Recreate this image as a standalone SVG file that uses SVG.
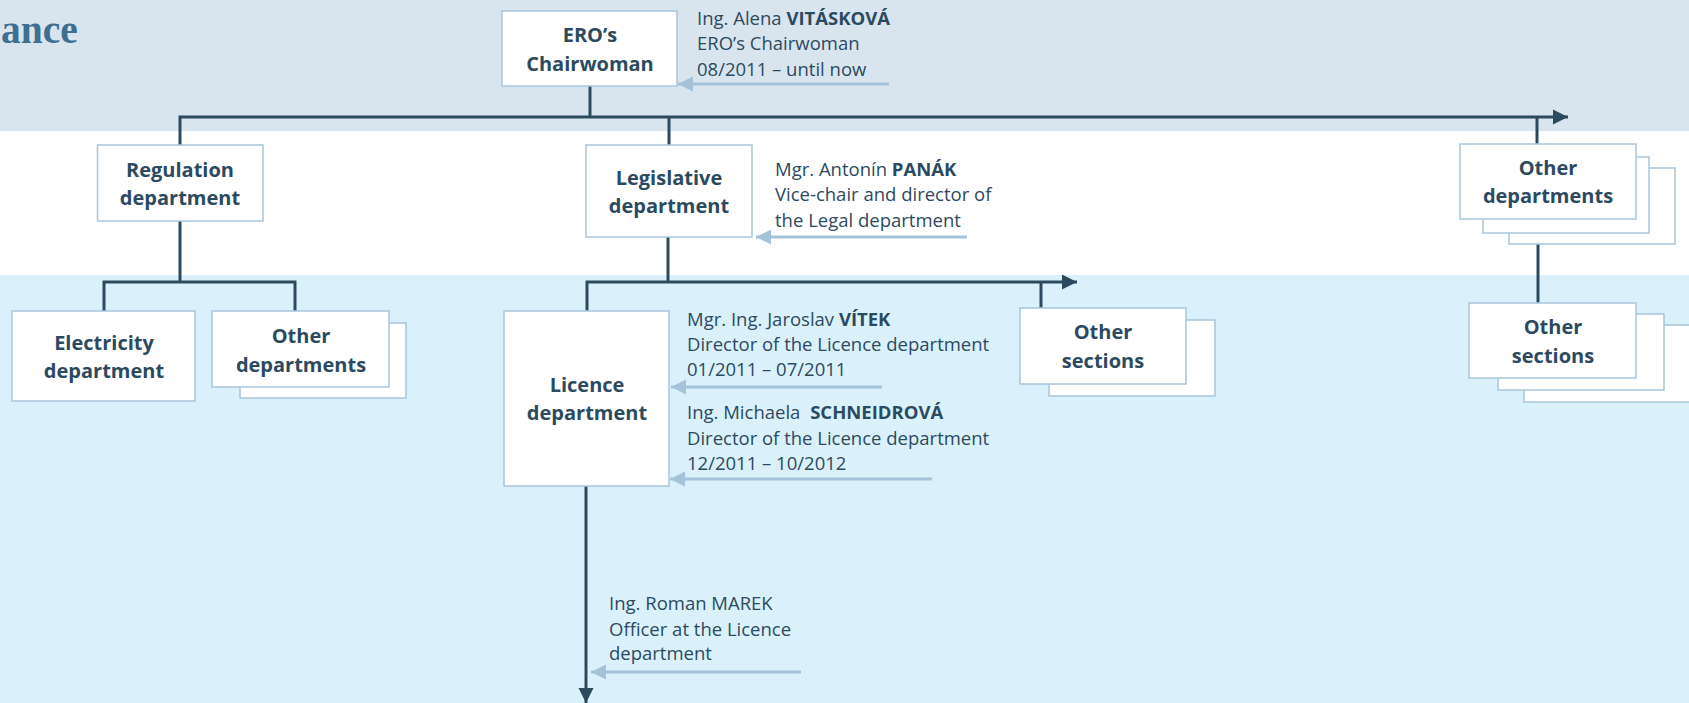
<svg xmlns="http://www.w3.org/2000/svg" width="1689" height="703" viewBox="0 0 1689 703">
<style>
.box{fill:#ffffff;stroke:#a8c6dd;stroke-width:1.5}
.lbl{font-family:"Open Sans","Noto Sans","Liberation Sans",sans-serif;font-weight:700;font-size:20px;fill:#2c4a5f;text-anchor:middle}
.ann{font-family:"Open Sans","Noto Sans","Liberation Sans",sans-serif;font-size:18.5px;fill:#2c4a5f}
.ann .b{font-weight:700}
.con{fill:none;stroke:#2c4a5e;stroke-width:3}
.pin{fill:none;stroke:#a4c3d9;stroke-width:3}
</style>
<defs>
<marker id="ah" markerUnits="userSpaceOnUse" markerWidth="16" markerHeight="16" viewBox="0 0 16 16" refX="15" refY="8" orient="auto">
<path d="M0,0.5 L15,8 L0,15.5 z" fill="#2c4a5e"/>
</marker>
<marker id="ahl" markerUnits="userSpaceOnUse" markerWidth="16" markerHeight="16" viewBox="0 0 16 16" refX="15" refY="8" orient="auto">
<path d="M0,0.5 L15,8 L0,15.5 z" fill="#a4c3d9"/>
</marker>
</defs>
<g id="background">
<rect x="0" y="0" width="1689" height="131" fill="#d9e5ee"/>
<rect x="0" y="131" width="1689" height="144" fill="#ffffff"/>
<rect x="0" y="275" width="1689" height="428" fill="#daf1fb"/>
<text x="1" y="43" font-family="'Liberation Serif',serif" font-weight="700" font-size="39.5" fill="#3e6e90">ance</text>
</g>
<g id="connectors">
<path class="con" d="M590,86 V117"/>
<path class="con" d="M180,145 V117 H1568" marker-end="url(#ah)"/>
<path class="con" d="M669,117 V145"/>
<path class="con" d="M1537,117 V144"/>
<path class="con" d="M180,221 V282"/>
<path class="con" d="M104,312 V282 H295 V312"/>
<path class="con" d="M668,237 V282"/>
<path class="con" d="M587,311 V282 H1077" marker-end="url(#ah)"/>
<path class="con" d="M1041,282 V309"/>
<path class="con" d="M586,486 V703" marker-end="url(#ah)"/>
<path class="con" d="M1538,244 V303"/>
<path class="pin" d="M889,84 H678" marker-end="url(#ahl)"/>
<path class="pin" d="M967,237 H756" marker-end="url(#ahl)"/>
<path class="pin" d="M882,387 H671" marker-end="url(#ahl)"/>
<path class="pin" d="M932,479 H670" marker-end="url(#ahl)"/>
<path class="pin" d="M801,672 H591" marker-end="url(#ahl)"/>
</g>
<g id="chairwoman">
<rect class="box" x="502" y="11" width="175" height="75"/>
<text class="lbl" x="590" y="42">ERO’s</text>
<text class="lbl" x="590" y="71">Chairwoman</text>
</g>
<g id="regulation">
<rect class="box" x="97.5" y="145" width="165.5" height="76"/>
<text class="lbl" x="180" y="177">Regulation</text>
<text class="lbl" x="180" y="205">department</text>
</g>
<g id="legislative">
<rect class="box" x="586" y="145" width="166" height="92"/>
<text class="lbl" x="669" y="185">Legislative</text>
<text class="lbl" x="669" y="213">department</text>
</g>
<g id="other-departments-right">
<rect class="box" x="1509" y="168" width="166" height="76"/>
<rect class="box" x="1483" y="157" width="166" height="76"/>
<rect class="box" x="1460" y="144" width="176" height="75"/>
<text class="lbl" x="1548" y="175">Other</text>
<text class="lbl" x="1548" y="203">departments</text>
</g>
<g id="electricity">
<rect class="box" x="12" y="311" width="183" height="90"/>
<text class="lbl" x="104" y="350">Electricity</text>
<text class="lbl" x="104" y="378">department</text>
</g>
<g id="other-departments-left">
<rect class="box" x="240" y="323" width="166" height="75"/>
<rect class="box" x="212" y="311" width="177" height="76"/>
<text class="lbl" x="301" y="343">Other</text>
<text class="lbl" x="301" y="372">departments</text>
</g>
<g id="licence">
<rect class="box" x="504" y="311" width="165" height="175"/>
<text class="lbl" x="587" y="392">Licence</text>
<text class="lbl" x="587" y="420">department</text>
</g>
<g id="other-sections-middle">
<rect class="box" x="1049" y="320" width="166" height="76"/>
<rect class="box" x="1020" y="308" width="166" height="76"/>
<text class="lbl" x="1103" y="339">Other</text>
<text class="lbl" x="1103" y="368">sections</text>
</g>
<g id="other-sections-right">
<rect class="box" x="1524" y="325" width="180" height="77"/>
<rect class="box" x="1498" y="314" width="166" height="76"/>
<rect class="box" x="1469" y="303" width="167" height="75"/>
<text class="lbl" x="1553" y="334">Other</text>
<text class="lbl" x="1553" y="363">sections</text>
</g>
<g id="note-vitaskova">
<text class="ann" x="697" y="25">Ing. Alena <tspan class="b">VITÁSKOVÁ</tspan></text>
<text class="ann" x="697" y="50">ERO’s Chairwoman</text>
<text class="ann" x="697" y="76">08/2011 – until now</text>
</g>
<g id="note-panak">
<text class="ann" x="775" y="176">Mgr. Antonín <tspan class="b">PANÁK</tspan></text>
<text class="ann" x="775" y="201">Vice-chair and director of</text>
<text class="ann" x="775" y="227">the Legal department</text>
</g>
<g id="note-vitek">
<text class="ann" x="687" y="326">Mgr. Ing. Jaroslav <tspan class="b">VÍTEK</tspan></text>
<text class="ann" x="687" y="351">Director of the Licence department</text>
<text class="ann" x="687" y="376">01/2011 – 07/2011</text>
</g>
<g id="note-schneidrova">
<text class="ann" x="687" y="419">Ing. Michaela <tspan class="b" dx="5">SCHNEIDROVÁ</tspan></text>
<text class="ann" x="687" y="445">Director of the Licence department</text>
<text class="ann" x="687" y="470">12/2011 – 10/2012</text>
</g>
<g id="note-marek">
<text class="ann" x="609" y="610">Ing. Roman MAREK</text>
<text class="ann" x="609" y="636">Officer at the Licence</text>
<text class="ann" x="609" y="660">department</text>
</g>
</svg>
